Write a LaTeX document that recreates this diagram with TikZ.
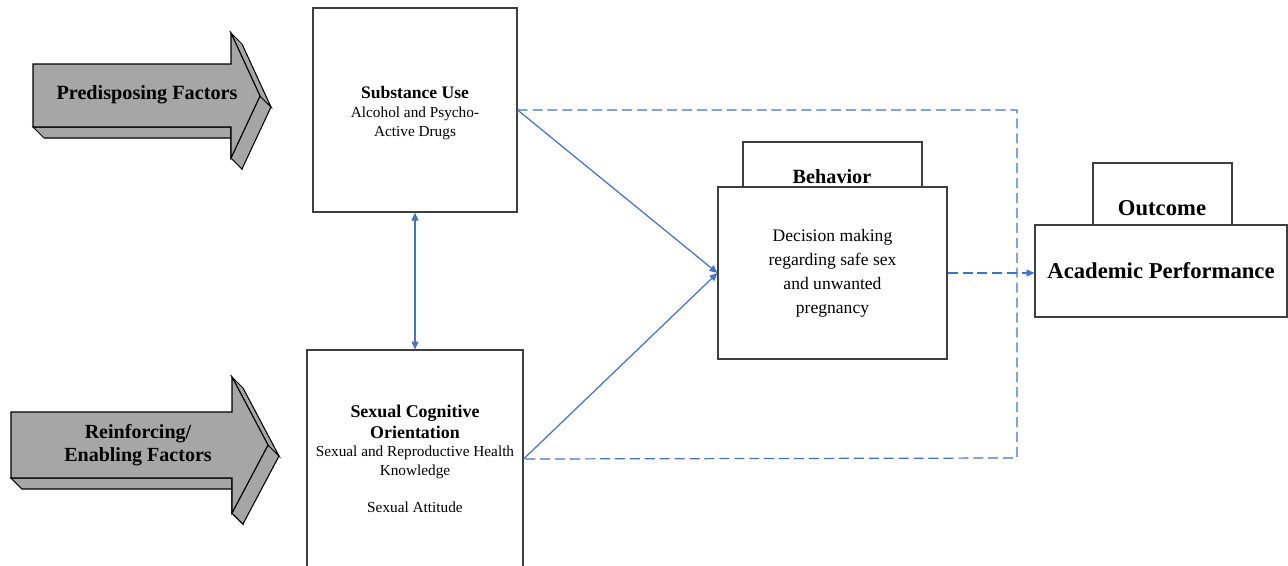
\documentclass[tikz,border=0pt]{standalone}
\usepackage{fontspec}
\setmainfont{Liberation Serif}
\usetikzlibrary{arrows.meta}
\definecolor{linkblue}{HTML}{4472C4}
\definecolor{boxline}{HTML}{3F3F3F}
\definecolor{arrowgray}{HTML}{A6A6A6}
\newcommand{\headfont}{\fontsize{10.2}{12.4}\selectfont\bfseries}
\begin{document}
\begin{tikzpicture}[x=0.02cm,y=-0.02cm,
    box/.style={draw=boxline,line width=0.7pt,fill=white,inner sep=0pt,align=center},
    bigarrow/.style={draw=black,line width=0.6pt,fill=arrowgray,line join=miter},
    link/.style={draw=linkblue,line width=0.7pt},
    tip/.style={-{Triangle[length=4.5pt,width=4pt]}},
    dtip/.style={{Triangle[length=4.5pt,width=4pt]}-{Triangle[length=4.5pt,width=4pt]}},
    dash link/.style={link,dash pattern=on 5.7pt off 2.8pt}]
    \clip (0,0) rectangle (1288,565);
    % predisposing factors
    \path[bigarrow] (231,127) -- (33,127) -- (44,138) -- (242,138) -- cycle;
    \path[bigarrow] (231,158) -- (231,127) -- (242,138) -- (242,169) -- cycle;
    \path[bigarrow] (260,96) -- (231,158) -- (242,169) -- (271,107) -- cycle;
    \path[bigarrow] (231,33) -- (260,96) -- (271,107) -- (242,44) -- cycle;
    \path[bigarrow] (33,64) -- (231,64) -- (231,33) -- (260,96) -- (231,158) -- (231,127) -- (33,127) -- cycle;
    \node[align=center,font=\fontsize{11.5}{13.5}\selectfont\bfseries] (predis) at (147,95) {Predisposing Factors};
    % reinforcing / enabling factors
    \path[bigarrow] (232,478) -- (11,478) -- (22,489) -- (243,489) -- cycle;
    \path[bigarrow] (232,513) -- (232,478) -- (243,489) -- (243,524) -- cycle;
    \path[bigarrow] (268,445) -- (232,513) -- (243,524) -- (279,456) -- cycle;
    \path[bigarrow] (232,377) -- (268,445) -- (279,456) -- (243,388) -- cycle;
    \path[bigarrow] (11,412) -- (232,412) -- (232,377) -- (268,445) -- (232,513) -- (232,478) -- (11,478) -- cycle;
    \node[align=center,font=\fontsize{11.4}{13.2}\selectfont\bfseries] (reinf) at (138,445) {Reinforcing/\\Enabling Factors};
    % boxes
    \node[box,minimum width=4.08cm,minimum height=4.08cm] (subst) at (415,110) {};
    \node[align=center,font=\fontsize{8.7}{10.8}\selectfont] (substtext) at (415,113)
        {\textbf{\fontsize{10}{12}\selectfont Substance Use}\\Alcohol and Psycho-\\Active Drugs};
    \node[box,minimum width=4.32cm,minimum height=4.36cm,font=\fontsize{8.7}{10.6}\selectfont] (sexual) at (415,459)
        {{\headfont Sexual Cognitive}\\[1pt]{\headfont Orientation}\\Sexual and Reproductive Health\\Knowledge\\[10.6pt]Sexual Attitude};
    \node[box,minimum width=3.58cm,minimum height=1.2cm] (behtab) at (832.5,172) {};
    \node[font=\fontsize{11.5}{13}\selectfont\bfseries] (behtitle) at (832,177) {Behavior};
    \node[box,minimum width=4.58cm,minimum height=3.44cm,font=\fontsize{10}{13.6}\selectfont] (behavior) at (832.5,273)
        {Decision making\\regarding safe sex\\and unwanted\\pregnancy};
    \node[box,minimum width=2.78cm,minimum height=1.4cm] (outtab) at (1162.5,198) {};
    \node[font=\fontsize{12.9}{14}\selectfont\bfseries] (outtitle) at (1162,208) {Outcome};
    \node[box,minimum width=5.04cm,minimum height=1.84cm,font=\fontsize{12.9}{15}\selectfont\bfseries] (outcome) at (1161,271)
        {Academic Performance};
    % links
    \coordinate (sidetop) at (1017,110);
    \coordinate (sidebot) at (1017,458);
    \draw[link,dtip] (subst.south) -- (sexual.north);
    \draw[link,tip] (subst.east) -- (behavior.west);
    \draw[link,tip] (sexual.east) -- (behavior.west);
    \draw[dash link] (subst.east) -- (sidetop) -- (sidebot) -- (sexual.east);
    \draw[dash link,tip] (behavior.east) -- (behavior.east -| outcome.west);
\end{tikzpicture}
\end{document}
